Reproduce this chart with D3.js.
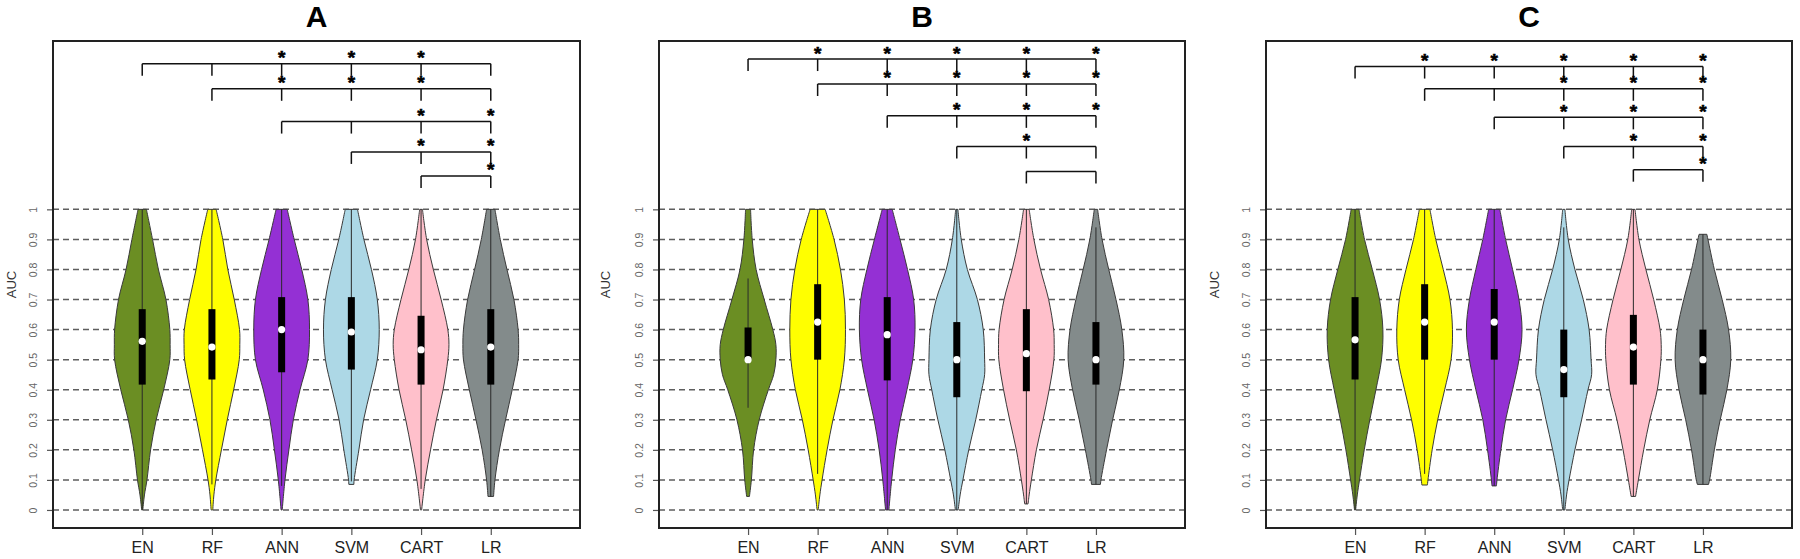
<!DOCTYPE html>
<html><head><meta charset="utf-8">
<script src="https://cdn.jsdelivr.net/npm/d3@7"></script>
<style>body{margin:0;background:#fff}svg{display:block}text{font-family:"Liberation Sans",Arial,sans-serif}</style>
</head><body><svg id="c" width="1800" height="559"></svg>
<script>
const categories = ["EN","RF","ANN","SVM","CART","LR"];
const colors = ["#6B8E23","#FFFF00","#9430D4","#ADD8E6","#FFC0CB","#838B8B"];
const panelTitles = ["A","B","C"];
const yTicks = [0,0.1,0.2,0.3,0.4,0.5,0.6,0.7,0.8,0.9,1];
const yTickLabels = ["0","0.1","0.2","0.3","0.4","0.5","0.6","0.7","0.8","0.9","1"];

// box stats: [lower whisker, q1, median, q3, upper whisker]
const boxA = [[0,0.417,0.561,0.668,1],[0.085,0.434,0.542,0.668,1],[0.08,0.458,0.6,0.708,1],[0.095,0.467,0.592,0.708,1],[0.07,0.417,0.533,0.646,1],[0.045,0.417,0.542,0.668,1]];
const boxB = [[0.34,0.5,0.5,0.607,0.77],[0.12,0.5,0.625,0.751,1],[0,0.431,0.583,0.708,1],[0,0.375,0.5,0.625,1],[0.02,0.395,0.52,0.668,1],[0.085,0.417,0.5,0.625,0.94]];
const boxC = [[0,0.434,0.566,0.708,1],[0.12,0.5,0.625,0.751,1],[0.08,0.5,0.625,0.735,1],[0,0.375,0.467,0.6,0.94],[0.045,0.417,0.542,0.649,1],[0.085,0.384,0.5,0.6,0.917]];

// violin outlines: [AUC, relative half-width]
const violinA = [
 [[0,0.02],[0.05,0.08],[0.1,0.17],[0.2,0.3],[0.3,0.5],[0.4,0.77],[0.5,0.99],[0.55,1],[0.6,0.99],[0.7,0.85],[0.8,0.58],[0.9,0.37],[1,0.15]],
 [[0,0.03],[0.05,0.07],[0.1,0.14],[0.2,0.34],[0.3,0.55],[0.4,0.78],[0.5,0.98],[0.55,1],[0.6,0.99],[0.7,0.8],[0.8,0.57],[0.9,0.39],[1,0.15]],
 [[0,0.02],[0.1,0.12],[0.2,0.26],[0.3,0.42],[0.4,0.66],[0.5,0.94],[0.6,1],[0.7,0.94],[0.8,0.72],[0.9,0.45],[1,0.2]],
 [[0.085,0.09],[0.1,0.1],[0.2,0.27],[0.3,0.44],[0.4,0.69],[0.5,0.93],[0.6,1],[0.7,0.93],[0.8,0.72],[0.9,0.45],[1,0.22]],
 [[0,0.02],[0.1,0.15],[0.2,0.34],[0.3,0.55],[0.4,0.79],[0.5,0.96],[0.55,1],[0.6,0.96],[0.7,0.72],[0.8,0.44],[0.9,0.2],[1,0.05]],
 [[0.045,0.1],[0.1,0.15],[0.2,0.31],[0.3,0.53],[0.4,0.77],[0.5,0.98],[0.55,1],[0.6,0.98],[0.7,0.83],[0.8,0.58],[0.9,0.34],[1,0.15]]
];
const violinB = [
 [[0.045,0.05],[0.1,0.12],[0.2,0.2],[0.3,0.4],[0.4,0.73],[0.45,0.92],[0.5,1],[0.55,1],[0.6,0.89],[0.7,0.58],[0.8,0.29],[0.9,0.15],[1,0.09]],
 [[0,0.02],[0.05,0.08],[0.1,0.16],[0.2,0.34],[0.3,0.55],[0.4,0.8],[0.5,0.96],[0.6,1],[0.7,0.96],[0.8,0.82],[0.9,0.59],[1,0.27]],
 [[0,0.06],[0.1,0.16],[0.2,0.29],[0.3,0.47],[0.4,0.71],[0.5,0.92],[0.6,1],[0.7,0.95],[0.8,0.73],[0.9,0.46],[1,0.18]],
 [[0,0.05],[0.05,0.12],[0.1,0.22],[0.2,0.43],[0.3,0.68],[0.4,0.9],[0.45,1],[0.5,1],[0.6,0.95],[0.7,0.74],[0.8,0.38],[0.9,0.16],[1,0.04]],
 [[0.02,0.06],[0.05,0.1],[0.1,0.18],[0.2,0.36],[0.3,0.6],[0.4,0.82],[0.5,0.99],[0.55,1],[0.6,0.98],[0.7,0.8],[0.8,0.51],[0.9,0.27],[1,0.1]],
 [[0.085,0.16],[0.1,0.18],[0.2,0.38],[0.3,0.6],[0.4,0.84],[0.5,1],[0.6,0.93],[0.7,0.72],[0.8,0.46],[0.9,0.22],[1,0.06]]
];
const violinC = [
 [[0,0.02],[0.05,0.08],[0.1,0.16],[0.2,0.33],[0.3,0.53],[0.4,0.75],[0.5,0.95],[0.6,1],[0.7,0.88],[0.8,0.62],[0.9,0.34],[1,0.14]],
 [[0.083,0.1],[0.1,0.12],[0.2,0.27],[0.3,0.47],[0.4,0.72],[0.5,0.95],[0.6,1],[0.7,0.91],[0.8,0.67],[0.9,0.4],[1,0.19]],
 [[0.08,0.08],[0.1,0.1],[0.2,0.24],[0.3,0.41],[0.4,0.66],[0.5,0.89],[0.6,1],[0.7,0.89],[0.8,0.66],[0.9,0.41],[1,0.2]],
 [[0,0.04],[0.05,0.1],[0.1,0.19],[0.2,0.4],[0.3,0.64],[0.4,0.87],[0.45,1],[0.5,0.98],[0.6,0.91],[0.7,0.7],[0.8,0.4],[0.9,0.16],[1,0.04]],
 [[0.045,0.08],[0.1,0.18],[0.2,0.37],[0.3,0.59],[0.4,0.86],[0.5,0.99],[0.55,1],[0.6,0.96],[0.7,0.73],[0.8,0.45],[0.9,0.2],[1,0.06]],
 [[0.085,0.2],[0.1,0.24],[0.2,0.41],[0.3,0.62],[0.4,0.86],[0.5,1],[0.6,0.92],[0.7,0.69],[0.8,0.41],[0.9,0.18],[0.917,0.14]]
];

// significance brackets: heights (AUC units) and starred comparisons per reference group
const bracketA = [1.484,1.401,1.292,1.191,1.111];
const bracketB = [1.5,1.417,1.311,1.209,1.126];
const bracketC = [1.475,1.401,1.306,1.209,1.132];
const sigA = [[2,3,4],[2,3,4],[4,5],[4,5],[5]];
const sigB = [[1,2,3,4,5],[2,3,4,5],[3,4,5],[4],[]];
const sigC = [[1,2,3,4,5],[3,4,5],[3,4,5],[4,5],[5]];

const panels = [
  {title:panelTitles[0], left:53, right:580, aucX:11, box:boxA, vio:violinA, br:bracketA, sig:sigA},
  {title:panelTitles[1], left:659, right:1185, aucX:605, box:boxB, vio:violinB, br:bracketB, sig:sigB},
  {title:panelTitles[2], left:1266, right:1792, aucX:1214, box:boxC, vio:violinC, br:bracketC, sig:sigC}
];
const plotTop = 41, plotBottom = 528;
const svg = d3.select("#c");

panels.forEach(p => {
  const g = svg.append("g");
  const x = d3.scaleLinear().domain([-0.28, 7.28]).range([p.left, p.right]);
  const y = d3.scaleLinear().domain([-0.06, 1.56]).range([plotBottom, plotTop]);
  const unit = x(1) - x(0);

  // grid
  g.selectAll(".grid").data(yTicks).join("line")
    .attr("x1", p.left).attr("x2", p.right)
    .attr("y1", d => y(d)).attr("y2", d => y(d))
    .attr("stroke", "#5e5e5e").attr("stroke-width", 1.5).attr("stroke-dasharray", "6,4");

  // y axis
  const ya = d3.axisLeft(y).tickValues(yTicks).tickFormat((d,i) => yTickLabels[i]).tickSize(6).tickPadding(4);
  const yg = g.append("g").attr("transform", `translate(${p.left},0)`).call(ya);
  yg.select(".domain").remove();
  yg.selectAll(".tick line").attr("stroke", "#555").attr("stroke-width", 1.2);
  yg.selectAll(".tick text").attr("fill", "#666").attr("font-size", 10.5)
    .attr("font-family", "Liberation Sans, Arial, sans-serif")
    .attr("text-anchor", "middle").attr("dy", null).attr("x", null)
    .attr("transform", "translate(-20,0) rotate(-90)").attr("dominant-baseline", "central");

  // x axis
  const xa = d3.axisBottom(x).tickValues([1,2,3,4,5,6]).tickFormat(d => categories[d-1]).tickSize(7).tickPadding(6);
  const xg = g.append("g").attr("transform", `translate(0,${plotBottom})`).call(xa);
  xg.select(".domain").remove();
  xg.selectAll(".tick line").attr("stroke", "#555").attr("stroke-width", 1.2);
  xg.selectAll(".tick text").attr("fill", "#222").attr("font-size", 16)
    .attr("font-family", "Liberation Sans, Arial, sans-serif").attr("dy", "0.72em");

  // AUC label
  g.append("text").attr("transform", `translate(${p.aucX},${(plotTop + plotBottom) / 2}) rotate(-90)`)
    .attr("text-anchor", "middle").attr("dominant-baseline", "central")
    .attr("font-size", 13).attr("fill", "#333").text("AUC");

  // violins
  categories.forEach((c, i) => {
    const cx = x(i + 1);
    const area = d3.area()
      .y(d => y(d[0]))
      .x0(d => cx - d[1] * 0.4 * unit)
      .x1(d => cx + d[1] * 0.4 * unit)
      .curve(d3.curveCatmullRom.alpha(0.5));
    g.append("path").attr("d", area(p.vio[i]))
      .attr("fill", colors[i]).attr("stroke", "#3a3a3a").attr("stroke-width", 1);
    const b = p.box[i];
    g.append("line").attr("x1", cx).attr("x2", cx).attr("y1", y(b[0])).attr("y2", y(b[4]))
      .attr("stroke", "#2a2a2a").attr("stroke-width", 1);
    g.append("rect").attr("x", cx - 3.5).attr("width", 7)
      .attr("y", y(b[3])).attr("height", Math.max(0, y(b[1]) - y(b[3]))).attr("fill", "#000");
    g.append("circle").attr("cx", cx).attr("cy", y(b[2])).attr("r", 3.6).attr("fill", "#fff");
  });

  // brackets
  p.br.forEach((h, i) => {
    const yy = y(h);
    g.append("line").attr("x1", x(i + 1)).attr("x2", x(6)).attr("y1", yy).attr("y2", yy)
      .attr("stroke", "#111").attr("stroke-width", 1.5);
    for (let j = i; j < 6; j++) {
      g.append("line").attr("x1", x(j + 1)).attr("x2", x(j + 1)).attr("y1", yy).attr("y2", yy + 12)
        .attr("stroke", "#111").attr("stroke-width", 1.5);
    }
    p.sig[i].forEach(j => {
      g.append("text").attr("x", x(j + 1)).attr("y", yy + 0.5).attr("text-anchor", "middle")
        .attr("font-family", "DejaVu Sans, sans-serif").attr("font-weight", "bold")
        .attr("font-size", 19).attr("fill", "#000")
        .attr("stroke", "#000").attr("stroke-width", 0.6).text("*");
    });
  });

  // frame
  g.append("rect").attr("x", p.left).attr("y", plotTop).attr("width", p.right - p.left).attr("height", plotBottom - plotTop)
    .attr("fill", "none").attr("stroke", "#222").attr("stroke-width", 2);

  // title
  svg.append("text").attr("x", (p.left + p.right) / 2).attr("y", 27).attr("text-anchor", "middle")
    .attr("font-size", 30).attr("font-weight", "bold").attr("fill", "#000").text(p.title);
});
</script></body></html>
